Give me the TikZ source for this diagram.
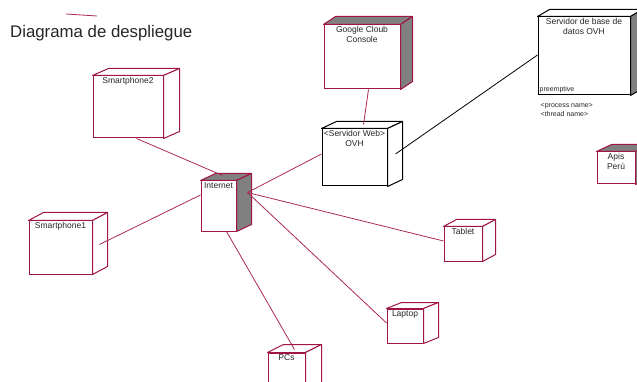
\documentclass[tikz,border=0pt]{standalone}
\usepackage{fontspec}
\setmainfont{Liberation Sans}
\usetikzlibrary{calc,fit}
\definecolor{crim}{RGB}{160,20,72}
\definecolor{crimline}{RGB}{172,40,88}
\definecolor{facegrey}{RGB}{128,128,128}
\newcommand\devfaces[6]{%
  \filldraw[draw=#6,fill=#4,line width=1pt,line join=round] (#1.north west) -- ++(#2,-#3) -- ($(#1.north east)+(#2,-#3)$) -- (#1.north east) -- cycle;
  \filldraw[draw=#6,fill=#5,line width=1pt,line join=round] (#1.north east) -- ++(#2,-#3) -- ($(#1.south east)+(#2,-#3)$) -- (#1.south east) -- cycle;
}
\tikzset{
  dev/.style={draw=crim, fill=white, line width=1pt, inner sep=0pt, rectangle},
  devk/.style={draw=black, fill=white, line width=1pt, inner sep=0pt, rectangle},
  lbl/.style={font=\fontsize{8.5}{10}\selectfont, inner sep=2pt, align=center, text=black!85},
  tiny/.style={font=\fontsize{7}{10}\selectfont, inner sep=2pt, align=left, text=black!85},
  conn/.style={draw=crimline, line width=0.8pt},
  connk/.style={draw=black, line width=0.8pt}
}
\begin{document}
\begin{tikzpicture}[x={(1pt,0)},y={(0,-1pt)}]
\useasboundingbox (0,0) rectangle (637,382);
% title
\node[anchor=base west, inner sep=0pt, font=\fontsize{16.8}{18}\selectfont, text=black!85] (title) at (10,37.5) {Diagrama de despliegue};
\coordinate (tl1) at (66,14);
\coordinate (tl2) at (97,16);
\draw[conn] (tl1) -- (tl2);
% corner coordinates
\coordinate (s2a) at (93,76);  \coordinate (s2b) at (163,138);
\coordinate (s1a) at (29,221); \coordinate (s1b) at (92,274);
\coordinate (ina) at (201,181); \coordinate (inb) at (236,231);
\coordinate (gca) at (324,25); \coordinate (gcb) at (400,89);
\coordinate (wba) at (322,129); \coordinate (wbb) at (387,186);
\coordinate (dba) at (538,17); \coordinate (dbb) at (630,95);
\coordinate (apa) at (597,152); \coordinate (apb) at (635,184);
\coordinate (tba) at (444,227); \coordinate (tbb) at (482,261);
\coordinate (lpa) at (387,309); \coordinate (lpb) at (423,343);
\coordinate (pca) at (268,353); \coordinate (pcb) at (305,390);
% nodes
\node[dev, fit=(s2a)(s2b), label={[lbl,anchor=north]north:Smartphone2}] (sm2) {};
\devfaces{sm2}{16}{7}{white}{white}{crim}
\node[dev, fit=(s1a)(s1b), label={[lbl,anchor=north]north:Smartphone1}] (sm1) {};
\devfaces{sm1}{15}{8}{white}{white}{crim}
\node[dev, fit=(ina)(inb), label={[lbl,anchor=north]north:Internet}] (inet) {};
\devfaces{inet}{15}{7}{facegrey}{facegrey}{crim}
\node[dev, fit=(gca)(gcb), label={[lbl,anchor=north]north:Google Cloub\\Console}] (gcc) {};
\devfaces{gcc}{12}{8}{facegrey}{facegrey}{crim}
\node[devk, fit=(wba)(wbb), label={[lbl,anchor=north]north:<Servidor Web>\\OVH}] (web) {};
\devfaces{web}{15}{7}{white}{white}{black}
\node[devk, fit=(dba)(dbb), label={[lbl,anchor=north]north:Servidor de base de\\datos OVH},
  label={[tiny,anchor=south west]south west:preemptive},
  label={[tiny,anchor=north west,yshift=-6pt,xshift=1pt]south west:<process name>\\[-1pt]<thread name>}] (db) {};
\devfaces{db}{12}{7}{white}{facegrey}{black}
\node[dev, fit=(apa)(apb), label={[lbl,anchor=north]north:Apis\\Perú}] (apis) {};
\devfaces{apis}{15}{7}{facegrey}{facegrey}{crim}
\node[dev, fit=(tba)(tbb), label={[lbl,anchor=north]north:Tablet}] (tab) {};
\devfaces{tab}{13}{7}{white}{white}{crim}
\node[dev, fit=(lpa)(lpb), label={[lbl,anchor=north]north:Laptop}] (lap) {};
\devfaces{lap}{15}{6}{white}{white}{crim}
\node[dev, fit=(pca)(pcb), label={[lbl,anchor=north]north:PCs}] (pcs) {};
\devfaces{pcs}{16}{8}{white}{white}{crim}
% connectors
\draw[conn] ($(sm2.south west)+(44,0)$) -- ($(inet.north west)+(22,-5)$);
\draw[conn] ($(sm1.east)+(7,-3)$) -- ($(inet.west)+(0,-11)$);
\draw[conn] ($(inet.north east)+(11,12)$) -- ($(web.west)+(0,-3.5)$);
\draw[conn] ($(inet.north east)+(11,12)$) -- ($(tab.west)+(0,-3)$);
\draw[conn] ($(inet.north east)+(11,12)$) -- ($(lap.west)+(0,-3)$);
\draw[conn] ($(inet.south west)+(26,0)$) -- ($(pcs.north west)+(27,-3)$);
\draw[conn] ($(gcc.south west)+(45,0)$) -- ($(web.north west)+(42,-4)$);
\draw[connk] ($(web.east)+(8,-3.5)$) -- ($(db.west)+(0,-1)$);
\end{tikzpicture}
\end{document}
